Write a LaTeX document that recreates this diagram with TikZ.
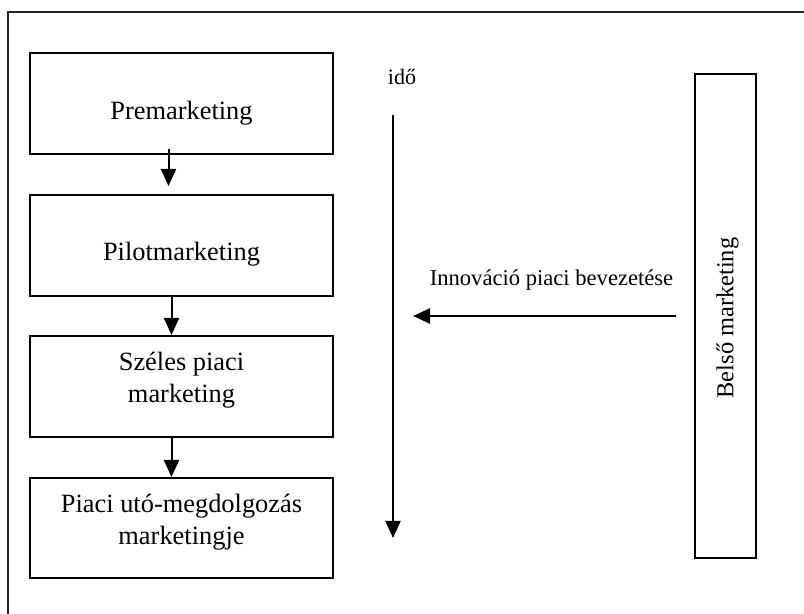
\documentclass[tikz,border=0pt]{standalone}
\usepackage{fontspec}
\setmainfont{Liberation Serif}
\usetikzlibrary{arrows.meta}
\begin{document}
\begin{tikzpicture}[x=0.5pt,y=-0.5pt,
  box/.style={draw,line width=1pt,inner sep=0pt,minimum width=151.5pt},
  txt/.style={inner sep=0pt,align=center,font=\fontsize{13.2}{16}\selectfont},
  arr/.style={line width=1pt,-{Triangle[width=7.5pt,length=8.5pt]}},
  frame/.style={line width=1pt,draw=black!85}]
\useasboundingbox (0,0) rectangle (804,614);
% outer frame (only left and top edges visible)
\coordinate (fa) at (8,614);
\coordinate (fb) at (8,12);
\coordinate (fc) at (804,12);
\draw[frame] (fa) -- (fb) -- (fc);
% boxes
\node[box,minimum height=50.5pt] (b1) at (181.5,103.5) {};
\node[box,minimum height=50.5pt] (b2) at (181.5,245.5) {};
\node[box,minimum height=50.5pt] (b3) at (181.5,386.5) {};
\node[box,minimum height=50pt] (b4) at (181.5,528) {};
\node[txt] (t1) at (181.5,113) {Premarketing};
\node[txt] (t2) at (181.5,254) {Pilotmarketing};
\node[txt] (t3) at (181.5,380) {Széles piaci\\marketing};
\node[txt] (t4) at (181.5,522) {Piaci utó-megdolgozás\\marketingje};
% connectors
\draw[arr] ([xshift=-6.5pt,yshift=3pt]b1.south) -- ([xshift=-6.5pt,yshift=4pt]b2.north);
\draw[arr] ([xshift=-5pt]b2.south) -- ([xshift=-5pt]b3.north);
\draw[arr] ([xshift=-5pt]b3.south) -- ([xshift=-5pt]b4.north);
% time
\node[txt,font=\fontsize{11}{13}\selectfont] (ido) at (402,77) {idő};
\coordinate (ts) at (393,115);
\coordinate (te) at (393,538);
\draw[arr] (ts) -- (te);
% right box
\node[draw,line width=1pt,inner sep=0pt,minimum width=30.5pt,minimum height=242pt] (bm) at (725.5,316) {};
\node[txt,rotate=90,font=\fontsize{12.2}{14}\selectfont] (bmt) at (727.5,318) {Belső marketing};
% horizontal arrow
\coordinate (hs) at (676,316);
\coordinate (he) at (413,316);
\draw[arr] (hs) -- (he);
\node[txt,font=\fontsize{11.3}{13}\selectfont] (inn) at (551.5,280) {Innováció piaci bevezetése};
\end{tikzpicture}
\end{document}
